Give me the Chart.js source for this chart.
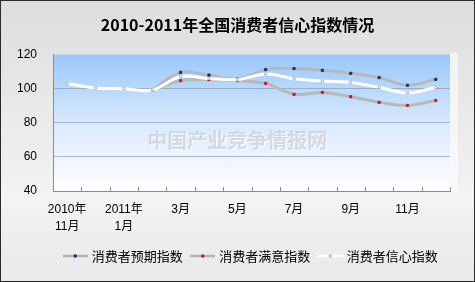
<!DOCTYPE html>
<html>
<head>
<meta charset="utf-8">
<script src="https://cdn.jsdelivr.net/npm/chart.js@4"></script>
<style>
  html, body { margin: 0; padding: 0; background: #fff; }
  #wrap { width: 475px; height: 282px; }
</style>
</head>
<body>
<div id="wrap"><canvas id="chart" width="475" height="282"></canvas></div>
<script>
// months Nov 2010 .. Dec 2011
let categories = ['2010年11月', '2010年12月', '2011年1月', '2011年2月', '2011年3月', '2011年4月', '2011年5月',
                  '2011年6月', '2011年7月', '2011年8月', '2011年9月', '2011年10月', '2011年11月', '2011年12月'];
let tickLabels = [['2010年', '11月'], '', ['2011年', '1月'], '', '3月', '', '5月', '', '7月', '', '9月', '', '11月', ''];

let expectation  = [null, null, null, 99.2, 109.6, 108.0, 105.6, 111.2, 111.8, 110.8, 109.0, 106.5, 102.0, 105.5];
let satisfaction = [null, null, null, 99.2, 104.7, 105.3, 104.8, 103.1, 96.7, 97.8, 95.3, 92.0, 90.2, 93.1];
let confidence   = [103.0, 100.4, 100.0, 99.2, 107.2, 106.0, 105.3, 108.6, 105.9, 104.5, 103.7, 100.8, 97.5, 100.8];

let names = ['消费者预期指数', '消费者满意指数', '消费者信心指数'];

const cjk = '"Noto Sans CJK SC", "Liberation Sans", sans-serif';
const latin = '"Liberation Sans", "Noto Sans CJK SC", sans-serif';

// little line + marker picture for the legend
function swatch(lineColor, markColor, markBorder){
    let c = document.createElement('canvas');
    c.width = 25; c.height = 6;
    let g = c.getContext('2d');
    g.strokeStyle = lineColor;
    g.lineWidth = 2.5;
    g.beginPath(); g.moveTo(0, 3); g.lineTo(25, 3); g.stroke();
    g.fillStyle = markBorder;
    g.fillRect(11, 1.5, 3, 3);
    g.fillStyle = markColor;
    g.fillRect(12, 2.5, 1, 1);
    return c;
}

const background = {
    id: 'background',
    beforeDraw(chart){
        const {ctx, width, height, chartArea: a} = chart;
        ctx.save();
        let bg = ctx.createLinearGradient(0, 0, 0, height);
        bg.addColorStop(0, '#dddddd');
        bg.addColorStop(0.7, '#f3f3f3');
        bg.addColorStop(1, '#e9e9e9');
        ctx.fillStyle = bg;
        ctx.fillRect(0, 0, width, height);
        // soft glow right of the plot
        ctx.fillStyle = 'rgba(255,255,255,0.55)';
        ctx.fillRect(a.right, a.top - 2, 8, a.bottom - a.top + 2);
        let pg = ctx.createLinearGradient(0, a.top, 0, a.bottom);
        pg.addColorStop(0, '#99c8f9');
        pg.addColorStop(0.5, '#d8e9fd');
        pg.addColorStop(1, '#ffffff');
        ctx.fillStyle = pg;
        ctx.fillRect(a.left, a.top, a.right - a.left, a.bottom - a.top);
        ctx.restore();
    },
    beforeDatasetsDraw(chart){
        const {ctx, chartArea: a, scales} = chart;
        ctx.save();
        ctx.font = 'bold 20px ' + cjk;
        ctx.textAlign = 'center';
        ctx.textBaseline = 'middle';
        let cx = a.left + (a.right - a.left) * 0.464;
        let cy = scales.y.getPixelForValue(69.5);
        ctx.fillStyle = 'rgba(255,255,255,0.8)';
        ctx.fillText('中国产业竞争情报网', cx + 1, cy + 1);
        ctx.fillStyle = 'rgba(175,180,190,0.45)';
        ctx.fillText('中国产业竞争情报网', cx, cy);
        ctx.restore();
    },
    afterDraw(chart){
        const {ctx, width, height, chartArea: a} = chart;
        ctx.save();
        // inside tick marks on the category axis
        let n = categories.length;
        let step = (a.right - a.left) / n;
        ctx.strokeStyle = '#8c8c8c';
        ctx.lineWidth = 1;
        ctx.beginPath();
        for (let i = 1; i <= n; i++) {
            let x = Math.round(a.left + i * step) + 0.5;
            ctx.moveTo(x, a.bottom);
            ctx.lineTo(x, a.bottom - 4);
        }
        ctx.stroke();
        ctx.strokeStyle = '#2b2b2b';
        ctx.strokeRect(0.5, 0.5, width - 1, height - 1);
        ctx.restore();
    }
};

function series(label, data, line, mark, markBorder, order){
    return {
        label: label,
        data: data,
        borderColor: line,
        borderWidth: 3,
        backgroundColor: mark,
        pointBackgroundColor: mark,
        pointBorderColor: markBorder,
        pointBorderWidth: 0.8,
        pointStyle: 'rect',
        pointRadius: 1.6,
        tension: 0.35,
        spanGaps: false,
        order: order
    };
}

let swatches = [swatch('#b5b5b5', '#1b2f5e', '#1b2f5e'),
                swatch('#b5b5b5', '#c8102e', '#c8102e'),
                swatch('#ffffff', '#ffffff', '#b0b0b0')];

let chart = new Chart(document.getElementById('chart').getContext('2d'), {
    type: 'line',
    data: {
        labels: categories,
        datasets: [
            series(names[0], expectation, '#b8b8b8', '#1b2f5e', '#1b2f5e', 1),
            series(names[1], satisfaction, '#b8b8b8', '#c8102e', '#c8102e', 2),
            series(names[2], confidence, '#ffffff', '#ffffff', '#a8a8a8', 0)
        ]
    },
    options: {
        responsive: false,
        animation: false,
        layout: { padding: { left: 0, right: 0, top: 0, bottom: 9.5 } },
        plugins: {
            title: {
                display: true,
                text: '2010-2011年全国消费者信心指数情况',
                color: '#000',
                font: { family: cjk, size: 16, weight: 'bold' },
                padding: { top: 15, bottom: 20.4 }
            },
            legend: {
                position: 'bottom',
                fullSize: false,
                labels: {
                    usePointStyle: true,
                    pointStyleWidth: 20,
                    padding: 10,
                    color: '#000',
                    font: { family: cjk, size: 13 },
                    generateLabels(chart){
                        return chart.data.datasets.map((d, i) => ({
                            text: d.label,
                            pointStyle: swatches[i],
                            fillStyle: 'transparent',
                            strokeStyle: 'transparent',
                            lineWidth: 0,
                            fontColor: '#000',
                            datasetIndex: i,
                            hidden: false
                        }));
                    }
                }
            },
            tooltip: { enabled: false }
        },
        scales: {
            x: {
                offset: true,
                grid: { display: false, drawTicks: false },
                border: { display: true, color: '#8c8c8c', width: 1 },
                ticks: {
                    autoSkip: false,
                    maxRotation: 0,
                    padding: 10.6,
                    color: '#000',
                    font: { family: latin, size: 12, lineHeight: 1.4 },
                    callback: (v, i) => tickLabels[i]
                },
                afterFit(scale){
                    scale.height = 48.5;
                    scale.paddingRight = 25;
                }
            },
            y: {
                min: 40,
                max: 120,
                grid: {
                    drawTicks: false,
                    color: (c) => (c.tick && (c.tick.value === 40 || c.tick.value === 120)) ? 'rgba(0,0,0,0)' : 'rgba(140,145,165,0.6)'
                },
                border: { display: true, color: '#8c8c8c', width: 1 },
                ticks: {
                    stepSize: 20,
                    padding: 16,
                    color: '#000',
                    font: { family: latin, size: 12 }
                },
                afterFit(scale){
                    scale.width = 53;
                }
            }
        }
    },
    plugins: [background]
});
</script>
</body>
</html>
